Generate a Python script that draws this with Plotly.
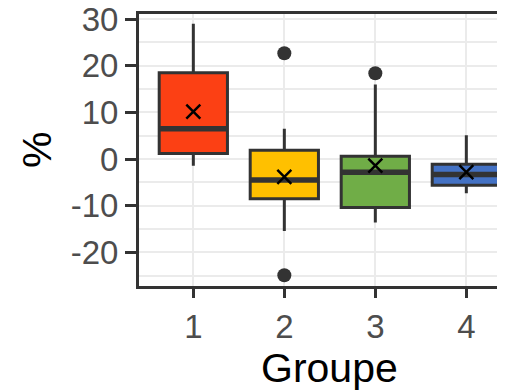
import plotly.graph_objects as go

# Box statistics per group
groups = [1, 2, 3, 4]
q1 = [1.2, -8.5, -10.4, -5.6]
medians = [6.5, -4.5, -2.8, -3.3]
q3 = [18.5, 1.9, 0.6, -1.1]
lower_fence = [-1.4, -15.4, -13.6, -7.3]
upper_fence = [29.0, 6.5, 16.0, 5.1]
means = [10.2, -3.8, -1.4, -2.8]
outlier_x = [2, 2, 3]
outlier_y = [22.7, -24.9, 18.4]
y_ticks = [-20, -10, 0, 10, 20, 30]
y_ticktext = ["-20", "-10", "0", "10", "20", "30"]

box_colors = ["#FC4014", "#FFC000", "#70AD47", "#4472C4"]
outline = "#333333"
box_width = 0.75
font_family = "Liberation Sans, Arial, sans-serif"

fig = go.Figure()

for g, lo, a, m, b, hi, col in zip(groups, lower_fence, q1, medians, q3, upper_fence, box_colors):
    fig.add_trace(go.Box(
        x=[g], q1=[a], median=[m], q3=[b],
        lowerfence=[lo], upperfence=[hi],
        width=box_width, whiskerwidth=0,
        fillcolor=col, line=dict(color=outline, width=3),
        boxpoints=False, showlegend=False, hoverinfo="skip",
    ))
    # thicker median bar like ggplot's fatten
    fig.add_trace(go.Scatter(
        x=[g - box_width / 2, g + box_width / 2], y=[m, m],
        mode="lines", line=dict(color=outline, width=5.5),
        showlegend=False, hoverinfo="skip",
    ))

# outliers
fig.add_trace(go.Scatter(
    x=outlier_x, y=outlier_y, mode="markers",
    marker=dict(color=outline, size=14),
    showlegend=False, hoverinfo="skip",
))

# means
fig.add_trace(go.Scatter(
    x=groups, y=means, mode="markers",
    marker=dict(symbol="x-thin-open", size=14, color="black",
                line=dict(color="black", width=2.5)),
    showlegend=False, hoverinfo="skip",
))

# page body has an 8px margin, so the figure is 8px smaller and margins shifted
fig.update_layout(
    width=497, height=384,
    margin=dict(l=131, r=0, t=6, b=106),
    plot_bgcolor="white", paper_bgcolor="white",
    font=dict(family=font_family, color="#4D4D4D", size=33),
    xaxis=dict(
        range=[0.403, 4.425], tickvals=groups, ticktext=[str(g) for g in groups],
        showgrid=True, gridcolor="#EBEBEB", gridwidth=2,
        showline=True, linecolor=outline, linewidth=3, mirror=True,
        ticks="outside", ticklen=9, tickwidth=3, tickcolor=outline,
        zeroline=False, automargin=False, ticklabeloverflow="allow",
    ),
    yaxis=dict(
        range=[-27.2, 31.1], tickvals=y_ticks, ticktext=y_ticktext,
        showgrid=True, gridcolor="#EBEBEB", gridwidth=2,
        minor=dict(dtick=5, tick0=0, showgrid=True, gridcolor="#EBEBEB", gridwidth=2),
        showline=True, linecolor=outline, linewidth=3,
        ticks="outside", ticklen=11, tickwidth=3, tickcolor=outline,
        zeroline=False, automargin=False, ticklabeloverflow="allow",
    ),
    annotations=[
        dict(text="Groupe", xref="x", x=2.5, yref="paper", y=-0.30,
             xanchor="center", yanchor="middle", showarrow=False,
             font=dict(family=font_family, size=41, color="black")),
        dict(text="%", xref="paper", x=-0.279, yref="paper", y=0.5,
             xanchor="center", yanchor="middle", textangle=-90, showarrow=False,
             font=dict(family=font_family, size=41, color="black")),
    ],
)

fig.write_html("out.html")
